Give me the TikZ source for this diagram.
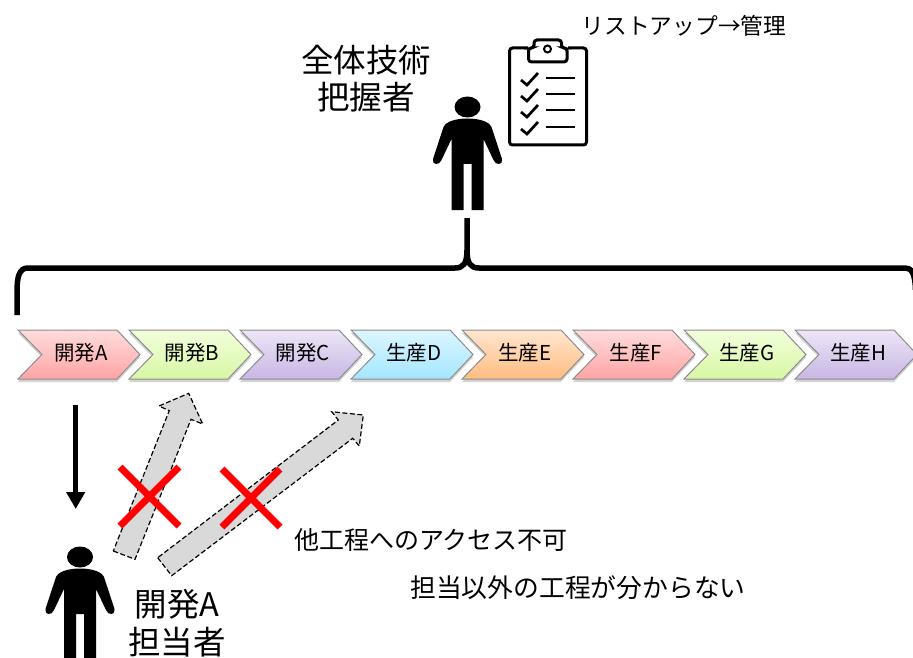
\documentclass[tikz,border=0pt]{standalone}
\usepackage{fontspec}
\setmainfont{Noto Sans CJK JP}
\usetikzlibrary{arrows.meta, shadows}
\tikzset{
	stepbox/.style = {draw = black!45, line width = 1pt, drop shadow = {shadow xshift = 0pt, shadow yshift = -3pt, opacity = .35}},
	blocked/.style = {draw = black, fill = black!15, dash pattern = on 5pt off 2.5pt, line width = 1.2pt},
	cross/.style = {draw = red, line width = 7pt},
	person/.pic = {
		\fill (0,0) ellipse (13 and 10.5);
		\fill (-13,13) .. controls (-5,11) and (5,11) .. (13,13) .. controls (21,15) and (24,18) .. (25,23)
			-- (34.5,52) .. controls (36,58) and (28,59) .. (26,53) -- (16,32) -- (16,103) -- (4,103) -- (4,57) -- (-4,57)
			-- (-4,103) -- (-16,103) -- (-16,32) -- (-26,53) .. controls (-28,59) and (-36,58) .. (-34.5,52)
			-- (-25,23) .. controls (-24,18) and (-21,15) .. (-13,13) -- cycle;
	},
}
\begin{document}
\begin{tikzpicture}[x = 1pt, y = -1pt]
	\clip (0,0) rectangle (913,658);
	% top
	\node (allA) at (366,60) {\fontsize{32.5}{32.5}\selectfont 全体技術};
	\node (allB) at (366,97) {\fontsize{32.5}{32.5}\selectfont 把握者};
	\node (list) at (684,26) {\fontsize{22.7}{24}\selectfont リストアップ→管理};
	\pic at (467.5,107) {person};
	% clipboard
	\draw [line width = 3pt, rounded corners = 3pt] (528,48) -- (509.5,48) -- (509.5,145) -- (586.5,145) -- (586.5,48) -- (568,48);
	\draw [line width = 3pt, rounded corners = 3pt] (528.5,48) -- (528.5,62) -- (567,62) -- (567,48) -- (561.5,48) -- (561.5,40) -- (534,40) -- (534,48) -- cycle;
	\draw [line width = 2pt] (547.5,49) circle (3.5);
	\foreach \y in {79,95,111,128} {
		\draw [line width = 2.7pt] (521,\y+1) -- (527,\y+6) -- (538,\y-6);
		\draw [line width = 2.7pt] (546,\y-1) -- (575,\y-1);
	}
	% brace
	\draw [line width = 5.5pt] (17,315) -- (17,292) .. controls (17,277) and (19,268) .. (28,268) -- (455,268) .. controls (463,268) and (467,264) .. (467,250) -- (467,218);
	\draw [line width = 5.5pt] (467,250) .. controls (467,264) and (471,268) .. (479,268) -- (905,268) .. controls (911,268) and (915,272) .. (915.5,290);
	% process steps
	\foreach \i/\txt/\ca/\cb in {0/開発A/FFDCDC/FFA4A4, 1/開発B/F1FFDC/D9F7A4, 2/開発C/EDE6F7/C8B6E4, 3/生産D/DCF6FF/A4E6FF, 4/生産E/FFE6D0/FFBC80, 5/生産F/FFDCDC/FFA4A4, 6/生産G/F1FFDC/D9F7A4, 7/生産H/EDE6F7/C8B6E4} {
		\definecolor{ctop}{HTML}{\ca}
		\definecolor{cbot}{HTML}{\cb}
		\path [stepbox, top color = ctop, bottom color = cbot] (18+\i*111,330) -- (117+\i*111,330) -- (140+\i*111,354.5) -- (117+\i*111,379) -- (18+\i*111,379) -- (42+\i*111,354.5) -- cycle;
		\node (step\i) at (81+\i*111,352.5) {\fontsize{20.5}{20.5}\selectfont \txt};
	}
	% arrow to the person
	\coordinate (downA) at (75.7,405);
	\coordinate (downB) at (75.7,509);
	\draw [-{Triangle[length = 17pt, width = 18pt]}, line width = 5.5pt] (downA) -- (downB);
	\pic at (80,557) {person};
	% blocked access
	\draw [blocked] (113.3,551) -- (135,559.3) -- (191,419.3) -- (202.7,424) -- (188.7,393.3) -- (159,406) -- (169.3,410.7) -- cycle;
	\draw [blocked] (157.7,557.7) -- (171.7,575.7) -- (352.7,438.3) -- (359.3,446) -- (363.3,415) -- (331.7,411.7) -- (338.3,420) -- cycle;
	\draw [cross] (120,467) -- (179,526) (179,467) -- (120,526);
	\draw [cross] (222,469) -- (280,527) (280,469) -- (222,527);
	% labels
	\node (nameA) at (177,604) {\fontsize{32.5}{32.5}\selectfont 開発A};
	\node (nameB) at (177,642) {\fontsize{32.5}{32.5}\selectfont 担当者};
	\node (noteA) at (431,540) {\fontsize{25}{25}\selectfont 他工程へのアクセス不可};
	\node (noteB) at (578,588) {\fontsize{25.8}{25.8}\selectfont 担当以外の工程が分からない};
\end{tikzpicture}
\end{document}
